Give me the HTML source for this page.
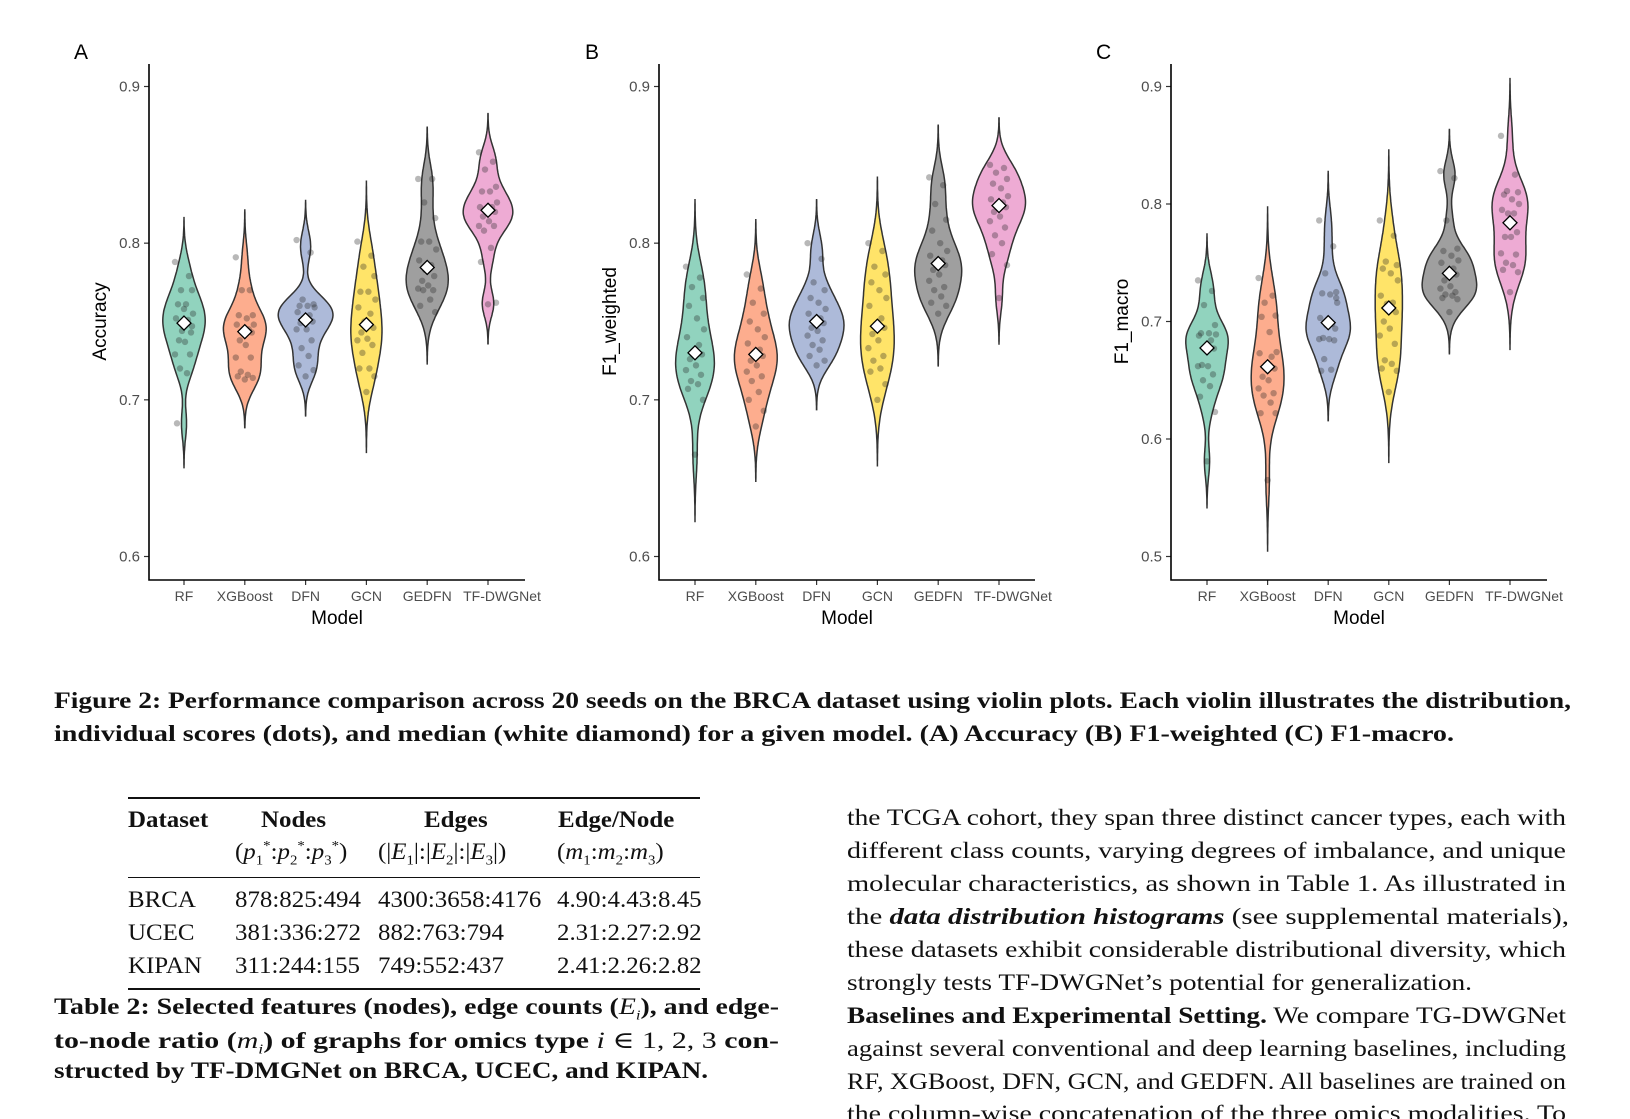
<!DOCTYPE html>
<html><head><meta charset="utf-8">
<style>
body{margin:0;background:#fff;}
#wrap{position:relative;width:1630px;height:1119px;overflow:hidden;background:#fff;}
.serif{font-family:"Liberation Serif","DejaVu Serif",serif;color:#111;}
.abs{position:absolute;white-space:nowrap;}
.cap{font-weight:bold;font-size:23.5px;}
.body{font-size:23.5px;}
.fit{transform-origin:0 0;}
.tc{transform:scaleX(1.06);transform-origin:0 0;}
</style></head><body>
<div id="wrap">
<svg id="chart" width="1630" height="640" style="position:absolute;left:0;top:0"></svg>

<div class="abs serif cap fit" data-w="1517" style="left:54px;top:688px;">Figure 2: Performance comparison across 20 seeds on the BRCA dataset using violin plots. Each violin illustrates the distribution,</div>
<div class="abs serif cap fit" data-w="1400" style="left:54px;top:721px;">individual scores (dots), and median (white diamond) for a given model. (A) Accuracy (B) F1-weighted (C) F1-macro.</div>

<div class="abs serif" style="left:128px;top:797px;width:572px;font-size:23.5px;">
 <div style="border-top:2px solid #111;"></div>
 <div style="position:relative;height:78px;">
  <div class="abs tc" style="left:0;top:8px;font-weight:bold">Dataset</div>
  <div class="abs tc" style="left:133px;top:8px;font-weight:bold">Nodes</div>
  <div class="abs tc" style="left:107px;top:40px;">(<i>p</i><sub style="font-size:14px">1</sub><sup style="font-size:14px">*</sup>:<i>p</i><sub style="font-size:14px">2</sub><sup style="font-size:14px">*</sup>:<i>p</i><sub style="font-size:14px">3</sub><sup style="font-size:14px">*</sup>)</div>
  <div class="abs tc" style="left:296px;top:8px;font-weight:bold">Edges</div>
  <div class="abs tc" style="left:250px;top:40px;">(|<i>E</i><sub style="font-size:14px">1</sub>|:|<i>E</i><sub style="font-size:14px">2</sub>|:|<i>E</i><sub style="font-size:14px">3</sub>|)</div>
  <div class="abs tc" style="left:430px;top:8px;font-weight:bold">Edge/Node</div>
  <div class="abs tc" style="left:429px;top:40px;">(<i>m</i><sub style="font-size:14px">1</sub>:<i>m</i><sub style="font-size:14px">2</sub>:<i>m</i><sub style="font-size:14px">3</sub>)</div>
 </div>
 <div style="border-top:1.2px solid #111;"></div>
 <div style="position:relative;height:110px;">
  <div class="abs tc" style="left:0;top:9px">BRCA</div><div class="abs tc" style="left:107px;top:9px">878:825:494</div><div class="abs tc" style="left:250px;top:9px">4300:3658:4176</div><div class="abs tc" style="left:429px;top:9px">4.90:4.43:8.45</div>
  <div class="abs tc" style="left:0;top:42px">UCEC</div><div class="abs tc" style="left:107px;top:42px">381:336:272</div><div class="abs tc" style="left:250px;top:42px">882:763:794</div><div class="abs tc" style="left:429px;top:42px">2.31:2.27:2.92</div>
  <div class="abs tc" style="left:0;top:75px">KIPAN</div><div class="abs tc" style="left:107px;top:75px">311:244:155</div><div class="abs tc" style="left:250px;top:75px">749:552:437</div><div class="abs tc" style="left:429px;top:75px">2.41:2.26:2.82</div>
 </div>
 <div style="border-top:2px solid #111;"></div>
</div>

<div class="abs serif cap fit" data-w="725" style="left:54px;top:994px;">Table 2: Selected features (nodes), edge counts (<i style="font-weight:normal">E<sub style="font-size:14px">i</sub></i>), and edge-</div>
<div class="abs serif cap fit" data-w="725" style="left:54px;top:1026px;">to-node ratio (<i style="font-weight:normal">m<sub style="font-size:14px">i</sub></i>) of graphs for omics type <i style="font-weight:normal">i</i> <span style="font-weight:normal">∈ 1, 2, 3</span> con-</div>
<div class="abs serif cap fit" data-w="654" style="left:54px;top:1058px;">structed by TF-DMGNet on BRCA, UCEC, and KIPAN.</div>

<div>
<div class="abs serif body fit" data-w="719" style="left:847px;top:805px">the TCGA cohort, they span three distinct cancer types, each with</div>
<div class="abs serif body fit" data-w="719" style="left:847px;top:838px">different class counts, varying degrees of imbalance, and unique</div>
<div class="abs serif body fit" data-w="719" style="left:847px;top:871px">molecular characteristics, as shown in Table 1. As illustrated in</div>
<div class="abs serif body fit" data-w="722" style="left:847px;top:904px">the <b><i>data distribution histograms</i></b> (see supplemental materials),</div>
<div class="abs serif body fit" data-w="719" style="left:847px;top:937px">these datasets exhibit considerable distributional diversity, which</div>
<div class="abs serif body fit" data-w="625" style="left:847px;top:970px">strongly tests TF-DWGNet’s potential for generalization.</div>
<div class="abs serif body fit" data-w="719" style="left:847px;top:1003px"><b>Baselines and Experimental Setting.</b> We compare TG-DWGNet</div>
<div class="abs serif body fit" data-w="719" style="left:847px;top:1036px">against several conventional and deep learning baselines, including</div>
<div class="abs serif body fit" data-w="719" style="left:847px;top:1069px">RF, XGBoost, DFN, GCN, and GEDFN. All baselines are trained on</div>
<div class="abs serif body fit" data-w="719" style="left:847px;top:1101px">the column-wise concatenation of the three omics modalities. To</div>
</div>
</div>
<script>
const models = ["RF","XGBoost","DFN","GCN","GEDFN","TF-DWGNet"];
const accuracyVals = [
 [0.788,0.779,0.770,0.770,0.761,0.761,0.755,0.752,0.751,0.744,0.743,0.738,0.737,0.729,0.729,0.720,0.717,0.685,0.747,0.758],
 [0.791,0.770,0.770,0.754,0.754,0.752,0.748,0.748,0.745,0.744,0.743,0.738,0.735,0.727,0.727,0.718,0.716,0.715,0.714,0.713],
 [0.802,0.794,0.764,0.761,0.760,0.760,0.759,0.756,0.754,0.752,0.750,0.749,0.745,0.745,0.738,0.733,0.728,0.722,0.719,0.715],
 [0.801,0.792,0.785,0.779,0.769,0.769,0.764,0.759,0.755,0.750,0.746,0.743,0.739,0.738,0.735,0.730,0.720,0.720,0.715,0.705],
 [0.841,0.841,0.826,0.816,0.801,0.801,0.796,0.789,0.786,0.783,0.779,0.776,0.773,0.771,0.770,0.770,0.764,0.760,0.756,0.786],
 [0.858,0.852,0.847,0.836,0.833,0.833,0.826,0.823,0.823,0.822,0.820,0.817,0.814,0.811,0.811,0.808,0.797,0.788,0.762,0.761]
];
const f1WeightedVals = [
 [0.785,0.778,0.772,0.765,0.760,0.752,0.745,0.740,0.735,0.731,0.729,0.726,0.722,0.719,0.716,0.712,0.710,0.707,0.700,0.665],
 [0.780,0.771,0.762,0.755,0.750,0.745,0.740,0.736,0.732,0.730,0.728,0.725,0.722,0.718,0.715,0.712,0.705,0.700,0.693,0.683],
 [0.800,0.790,0.775,0.770,0.765,0.762,0.758,0.755,0.752,0.751,0.749,0.746,0.744,0.741,0.738,0.735,0.732,0.728,0.725,0.722],
 [0.800,0.795,0.785,0.780,0.775,0.770,0.765,0.760,0.752,0.748,0.746,0.742,0.738,0.733,0.728,0.725,0.720,0.718,0.710,0.700],
 [0.842,0.837,0.825,0.815,0.808,0.800,0.795,0.792,0.789,0.788,0.786,0.783,0.780,0.776,0.772,0.770,0.766,0.762,0.760,0.755],
 [0.850,0.848,0.845,0.841,0.838,0.835,0.830,0.828,0.826,0.825,0.823,0.820,0.817,0.814,0.810,0.805,0.800,0.793,0.786,0.765]
];
const f1MacroVals = [
 [0.735,0.726,0.714,0.697,0.690,0.690,0.689,0.688,0.684,0.678,0.677,0.663,0.662,0.662,0.655,0.650,0.645,0.636,0.623,0.581],
 [0.737,0.722,0.716,0.705,0.704,0.691,0.674,0.673,0.670,0.663,0.660,0.653,0.650,0.643,0.639,0.637,0.631,0.622,0.622,0.565],
 [0.786,0.764,0.741,0.725,0.724,0.723,0.716,0.703,0.698,0.697,0.694,0.686,0.685,0.685,0.684,0.668,0.659,0.658,0.720,0.700],
 [0.786,0.773,0.751,0.748,0.745,0.741,0.735,0.722,0.716,0.715,0.708,0.700,0.694,0.688,0.681,0.667,0.664,0.660,0.658,0.640],
 [0.828,0.822,0.786,0.762,0.760,0.756,0.752,0.750,0.745,0.742,0.740,0.735,0.730,0.728,0.725,0.723,0.722,0.720,0.719,0.708],
 [0.858,0.825,0.811,0.810,0.808,0.804,0.800,0.795,0.792,0.792,0.776,0.772,0.772,0.758,0.757,0.750,0.748,0.744,0.742,0.725]
];
const ticksAB = [0.6,0.7,0.8,0.9];
const ticksC = [0.5,0.6,0.7,0.8,0.9];
const colors = ["#66C2A5","#FC8D62","#8DA0CB","#FFD92F","#7a7a7a","#E78AC3"];

const NS="http://www.w3.org/2000/svg";
const svg=document.getElementById('chart');
function mk(tag,attrs,parent){const e=document.createElementNS(NS,tag);for(const k in attrs)e.setAttribute(k,attrs[k]);(parent||svg).appendChild(e);return e;}
const jit=[-9,5,-3,8,-6,2,9,-8,4,-2,7,-5,1,-9,6,-4,3,-7,8,0];

function bw(v){const n=v.length;const m=v.reduce((a,b)=>a+b)/n;const sd=Math.sqrt(v.reduce((a,b)=>a+(b-m)*(b-m),0)/(n-1));
 const s=[...v].sort((a,b)=>a-b);const q=p=>{const h=(n-1)*p,l=Math.floor(h);return s[l]+(s[Math.min(l+1,n-1)]-s[l])*(h-l);};
 const iqr=q(0.75)-q(0.25);return 0.9*Math.min(sd,iqr/1.34)*Math.pow(n,-0.2);}
function median(v){const s=[...v].sort((a,b)=>a-b);const n=s.length;return n%2?s[(n-1)/2]:(s[n/2-1]+s[n/2])/2;}

function panel(cfg){
 const g=mk('g',{});
 
 
 const {x0,x1,yTop,yBot,vmin,vmax,pTop,pBot}=cfg;
 const y=v=>pBot-(v-vmin)/(vmax-vmin)*(pBot-pTop);
 const xs=i=>cfg.cx0+i*(cfg.cx5-cfg.cx0)/5;
 const dens=cfg.data.map(v=>{const h=bw(v);const lo=Math.min(...v)-3*h,hi=Math.max(...v)+3*h;const pts=[];
  for(let k=0;k<=120;k++){const t=lo+(hi-lo)*k/120;let d=0;for(const a of v)d+=Math.exp(-0.5*((t-a)/h)**2)/(h*Math.sqrt(2*Math.PI));pts.push([t,d/v.length]);}return pts;});
 const dmax=Math.max(...dens.flat().map(p=>p[1]));
 const half=0.45*(cfg.cx5-cfg.cx0)/5;
 cfg.data.forEach((v,i)=>{
  const cx=xs(i);const P=dens[i];
  let d='M'+P.map(p=>(cx+p[1]/dmax*half).toFixed(1)+','+y(p[0]).toFixed(1)).join('L');
  d+='L'+P.slice().reverse().map(p=>(cx-p[1]/dmax*half).toFixed(1)+','+y(p[0]).toFixed(1)).join('L')+'Z';
  const vp=mk('path',{d:d,fill:colors[i],'fill-opacity':0.72,stroke:'#333','stroke-width':1.5},g);
  
  
  v.forEach((a,j)=>{const c=mk('circle',{cx:cx+jit[j%20],cy:y(a),r:3.2,fill:'#222','fill-opacity':0.32},g);
   
   });
  const m=median(v);const my=y(m);const s=7;
  const dm=mk('path',{d:`M${cx},${my-s}L${cx+s},${my}L${cx},${my+s}L${cx-s},${my}Z`,fill:'#fff',stroke:'#000','stroke-width':1.3},g);
  
  
  mk('line',{x1:cx,x2:cx,y1:yBot,y2:yBot+5,stroke:'#333','stroke-width':1.2},g);
  const off=(i===5)?14:0;
  const t=mk('text',{x:cx+off,y:yBot+21,'text-anchor':'middle','font-size':14,fill:'#4d4d4d','font-family':'Liberation Sans, sans-serif'},g);t.textContent=models[i];
  
  
 });
 cfg.ticks.forEach(tv=>{const ty=y(tv);
  mk('line',{x1:x0-5,x2:x0,y1:ty,y2:ty,stroke:'#333','stroke-width':1.2},g);
  const t=mk('text',{x:x0-9,y:ty+5,'text-anchor':'end','font-size':15,fill:'#4d4d4d','font-family':'Liberation Sans, sans-serif'},g);t.textContent=tv.toFixed(1);
  
  });
 const ax=mk('path',{d:`M${x0},${yTop}V${yBot}H${x1}`,fill:'none',stroke:'#000','stroke-width':1.6},g);
 
 
 const L=mk('text',{x:cfg.lx,y:59,'font-size':21,fill:'#000','font-family':'Liberation Sans, sans-serif'},g);L.textContent=cfg.letter;
 
 
 const xt=mk('text',{x:(x0+x1)/2,y:624,'text-anchor':'middle','font-size':19,fill:'#000','font-family':'Liberation Sans, sans-serif'},g);xt.textContent='Model';
 
 
 const yt=mk('text',{x:0,y:0,transform:`translate(${x0-43},${(pTop+pBot)/2}) rotate(-90)`,'text-anchor':'middle','font-size':19,fill:'#000','font-family':'Liberation Sans, sans-serif'},g);yt.textContent=cfg.ytitle;
 
 
}
panel({letter:'A',lx:74,x0:149,x1:525,yTop:64,yBot:580,vmin:0.6,vmax:0.9,pTop:86.5,pBot:556.5,cx0:184,cx5:488,data:accuracyVals,ticks:ticksAB,ytitle:'Accuracy'});
panel({letter:'B',lx:585,x0:659,x1:1035,yTop:64,yBot:580,vmin:0.6,vmax:0.9,pTop:86.5,pBot:556.5,cx0:695,cx5:999,data:f1WeightedVals,ticks:ticksAB,ytitle:'F1_weighted'});
panel({letter:'C',lx:1096,x0:1171,x1:1547,yTop:64,yBot:580,vmin:0.5,vmax:0.9,pTop:86.5,pBot:556.5,cx0:1207,cx5:1510,data:f1MacroVals,ticks:ticksC,ytitle:'F1_macro'});

document.querySelectorAll('.fit').forEach(el=>{
 const w=el.getBoundingClientRect().width;const tw=+el.getAttribute('data-w');
 if(w>0)el.style.transform='scaleX('+(tw/w)+')';
});
</script>
</body></html>
